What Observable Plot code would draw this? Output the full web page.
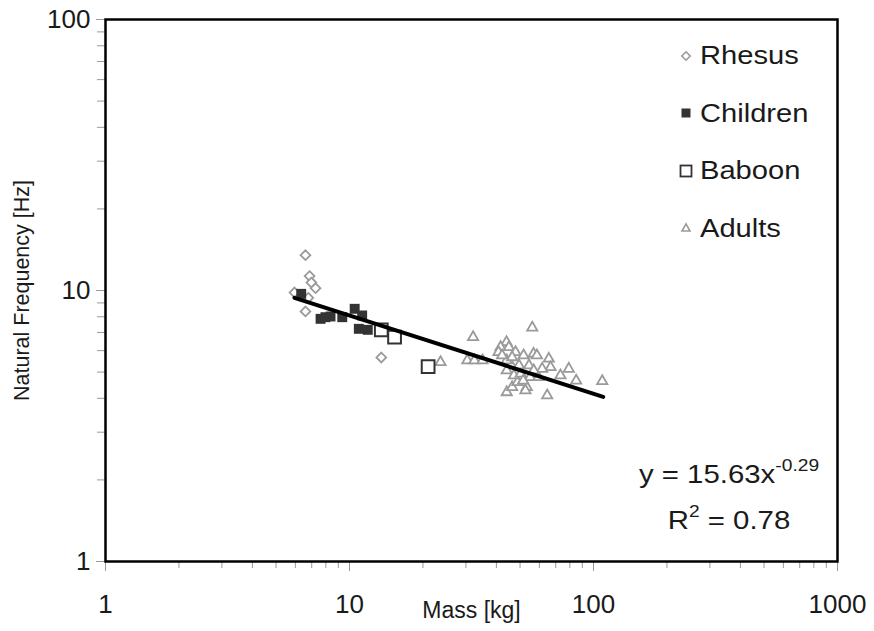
<!DOCTYPE html>
<html>
<head>
<meta charset="utf-8">
<script src="https://cdn.jsdelivr.net/npm/d3@7"></script>
<script src="https://cdn.jsdelivr.net/npm/@observablehq/plot@0.6"></script>
<style>
  body { margin: 0; background: white; }
  #wrap { position: relative; width: 874px; height: 631px; font-family: "Liberation Sans", Arial, sans-serif; color: #1a1a1a; }
  #legend { position: absolute; left: 678px; top: 27px; font-size: 26px; }
  #legend .row { height: 57.5px; display: flex; align-items: center; }
  #legend svg { width: 16px; height: 16px; margin-right: 6px; }
  #legend span { display: inline-block; transform: scaleX(1.12); transform-origin: left center; }
  #eq { position: absolute; left: 598px; width: 262px; top: 453px; text-align: center; font-size: 26px; line-height: 42px; transform: scaleX(1.13); transform-origin: center; }
  #eq .sup { font-size: 17px; position: relative; top: -12px; }
</style>
</head>
<body>
<div id="wrap">
  <div id="chart"></div>
  <div id="legend"></div>
  <div id="eq"></div>
</div>
<script>
// ---- data ----
const rhesusMass = [6.6, 6.86, 6.98, 7.26, 5.95, 6.78, 6.6, 13.5];
const rhesusFreq = [13.5, 11.3, 10.7, 10.2, 9.83, 9.4, 8.37, 5.66];

const childrenMass = [6.34, 7.61, 7.97, 8.36, 9.34, 10.5, 11.27, 10.92, 11.88];
const childrenFreq = [9.72, 7.86, 7.97, 8.02, 7.97, 8.56, 8.09, 7.22, 7.16];

const baboonMass = [13.5, 15.3, 21.0];
const baboonFreq = [7.16, 6.73, 5.24];

const adultsMass = [23.6, 32.1, 56.1, 30.4, 32.5, 35.1, 44.0, 41.6, 45.0, 40.8, 47.9, 51.7, 56.8, 58.6, 65.6, 66.7, 79.2, 73.2, 84.9, 108.6, 64.6, 44.1, 46.4, 53.3, 52.6, 48.8, 44.1, 47.2, 50.3, 55.0, 59.5, 45.7, 49.5, 54.4, 61.6, 44.1, 42.2, 46.4, 56.9, 51.5];
const adultsFreq = [5.44, 6.73, 7.29, 5.52, 5.52, 5.52, 6.45, 6.18, 6.18, 5.92, 5.92, 5.76, 5.84, 5.76, 5.6, 5.21, 5.14, 4.86, 4.65, 4.63, 4.1, 4.21, 4.4, 4.4, 4.28, 4.59, 5.07, 4.86, 4.93, 4.79, 4.79, 5.36, 5.29, 5.29, 5.14, 5.52, 5.76, 5.67, 5.07, 4.65];

// trend line end points (power law fit, straight on log-log axes)
const trendMass = [5.95, 109.6];
const trendFreq = [9.4, 4.05];

const seriesNames = ["Rhesus", "Children", "Baboon", "Adults"];
const eqLine1 = "y = 15.63x";
const eqExponent = "-0.29";
const eqLine2R = "R";
const eqLine2Rest = " = 0.78";

const xMajorTicks = [1, 10, 100, 1000];
const yMajorTicks = [1, 10, 100];
const xLabel = "Mass [kg]";
const yLabel = "Natural Frequency [Hz]";

// ---- build tables ----
const zip = (xs, ys) => xs.map((x, i) => ({mass: x, freq: ys[i]}));
const rhesus = zip(rhesusMass, rhesusFreq);
const children = zip(childrenMass, childrenFreq);
const baboon = zip(baboonMass, baboonFreq);
const adults = zip(adultsMass, adultsFreq);
const trend = zip(trendMass, trendFreq);

const minorOf = majors => {
  const out = [];
  for (let i = 0; i < majors.length - 1; i++) for (let k = 2; k <= 9; k++) out.push(majors[i] * k);
  return out;
};
const xMinor = minorOf(xMajorTicks);
const yMinor = minorOf(yMajorTicks);

const tickColor = "#9a9a9a";

const chart = Plot.plot({
  width: 874,
  height: 631,
  marginLeft: 105,
  marginRight: 37,
  marginTop: 19,
  marginBottom: 70,
  x: {type: "log", domain: [1, 1000]},
  y: {type: "log", domain: [1, 100]},
  style: {fontFamily: '"Liberation Sans", Arial, sans-serif', background: "white", color: "#1a1a1a", overflow: "visible"},
  marks: [
    Plot.axisX({ticks: xMinor, tickSize: 7, tickFormat: () => "", stroke: tickColor, label: null}),
    Plot.axisX({ticks: xMajorTicks, tickSize: 10, tickPadding: 23, tickFormat: d => String(d), stroke: tickColor, fontSize: 26, label: null}),
    Plot.axisX({ticks: [], label: xLabel, labelAnchor: "center", labelArrow: "none", labelOffset: 56, fontSize: 23}),
    Plot.axisY({ticks: yMinor, tickSize: 8, tickFormat: () => "", stroke: tickColor, label: null}),
    Plot.axisY({ticks: yMajorTicks, tickSize: 9, tickPadding: 6, tickFormat: d => String(d), stroke: tickColor, fontSize: 26, label: null}),
    Plot.axisY({ticks: [], label: yLabel, labelAnchor: "center", labelArrow: "none", labelOffset: 92, fontSize: 21.5}),
    Plot.dot(adults, {x: "mass", y: "freq", symbol: "triangle", r: 3.8, stroke: "#9a9a9a", strokeWidth: 1.8, fill: "white"}),
    Plot.dot(rhesus, {x: "mass", y: "freq", symbol: "diamond2", r: 4.4, stroke: "#9a9a9a", strokeWidth: 1.8, fill: "white"}),
    Plot.dot(children, {x: "mass", y: "freq", symbol: "square", r: 5.6, fill: "#333333", stroke: "none"}),
    Plot.dot(baboon, {x: "mass", y: "freq", symbol: "square", r: 7.2, stroke: "#333333", strokeWidth: 2, fill: "white"}),
    Plot.line(trend, {x: "mass", y: "freq", stroke: "black", strokeWidth: 4}),
    Plot.frame({stroke: "black", strokeWidth: 2.5})
  ]
});
document.getElementById("chart").appendChild(chart);

// ---- legend ----
const icons = {
  Rhesus: '<svg viewBox="-8 -8 16 16"><path d="M0,-4.2L4.2,0L0,4.2L-4.2,0Z" fill="white" stroke="#9a9a9a" stroke-width="1.6"/></svg>',
  Children: '<svg viewBox="-8 -8 16 16"><rect x="-4.5" y="-4.5" width="9" height="9" fill="#333"/></svg>',
  Baboon: '<svg viewBox="-8 -8 16 16"><rect x="-5.5" y="-5.5" width="11" height="11" fill="white" stroke="#333" stroke-width="1.8"/></svg>',
  Adults: '<svg viewBox="-8 -8 16 16"><path d="M0,-4.2L4,3L-4,3Z" fill="white" stroke="#9a9a9a" stroke-width="1.6"/></svg>'
};
const legend = document.getElementById("legend");
seriesNames.forEach(name => {
  const row = document.createElement("div");
  row.className = "row";
  row.innerHTML = icons[name] + "<span>" + name + "</span>";
  legend.appendChild(row);
});

// ---- equation ----
document.getElementById("eq").innerHTML =
  "<div>" + eqLine1 + '<span class="sup">' + eqExponent + "</span></div>" +
  "<div>" + eqLine2R + '<span class="sup">2</span>' + eqLine2Rest + "</div>";
</script>
</body>
</html>
